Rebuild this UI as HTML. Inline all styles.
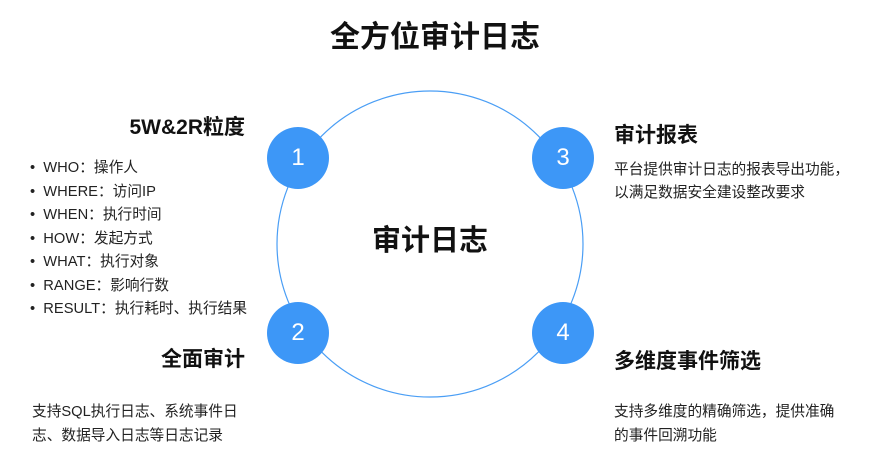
<!DOCTYPE html>
<html><head><meta charset="utf-8"><style>
body{margin:0;width:883px;height:466px;background:#fff;position:relative;overflow:hidden;font-family:"Liberation Sans","Noto Sans CJK SC",sans-serif;color:#111}
.t{position:absolute;white-space:nowrap;line-height:1}
.h{font-weight:bold;font-size:21px}
.p{font-size:14.7px;color:#222}
.n{position:absolute;width:62px;height:62px;border-radius:50%;background:#3d97f7;color:#fff;font-size:24px;text-align:center;line-height:62px}
</style></head><body>
<svg width="883" height="466" style="position:absolute;left:0;top:0"><circle cx="430" cy="244" r="153" fill="none" stroke="#4a9ef5" stroke-width="1.2"/></svg>
<div class="t" style="left:330px;width:210px;text-align:center;top:23px;font-size:30px;font-weight:bold">全方位审计日志</div>
<div class="t" style="left:330px;width:200px;text-align:center;top:227px;font-size:29px;font-weight:bold">审计日志</div>
<div class="n" style="left:267px;top:127px">1</div>
<div class="n" style="left:267px;top:302px">2</div>
<div class="n" style="left:532px;top:127px">3</div>
<div class="n" style="left:532px;top:302px">4</div>
<div class="t h" style="right:638px;top:117px">5W&amp;2R粒度</div>
<div class="t p" style="left:30px;top:157px;line-height:23.5px">•&nbsp;&nbsp;WHO：操作人<br>•&nbsp;&nbsp;WHERE：访问IP<br>•&nbsp;&nbsp;WHEN：执行时间<br>•&nbsp;&nbsp;HOW：发起方式<br>•&nbsp;&nbsp;WHAT：执行对象<br>•&nbsp;&nbsp;RANGE：影响行数<br>•&nbsp;&nbsp;RESULT：执行耗时、执行结果</div>
<div class="t h" style="right:638px;top:349px">全面审计</div>
<div class="t p" style="left:32px;top:400px;line-height:24px">支持SQL执行日志、系统事件日<br>志、数据导入日志等日志记录</div>
<div class="t h" style="left:614px;top:125px">审计报表</div>
<div class="t p" style="left:614px;top:159px;line-height:23px">平台提供审计日志的报表导出功能，<br>以满足数据安全建设整改要求</div>
<div class="t h" style="left:614px;top:351px">多维度事件筛选</div>
<div class="t p" style="left:614px;top:400px;line-height:24px">支持多维度的精确筛选，提供准确<br>的事件回溯功能</div>
</body></html>
